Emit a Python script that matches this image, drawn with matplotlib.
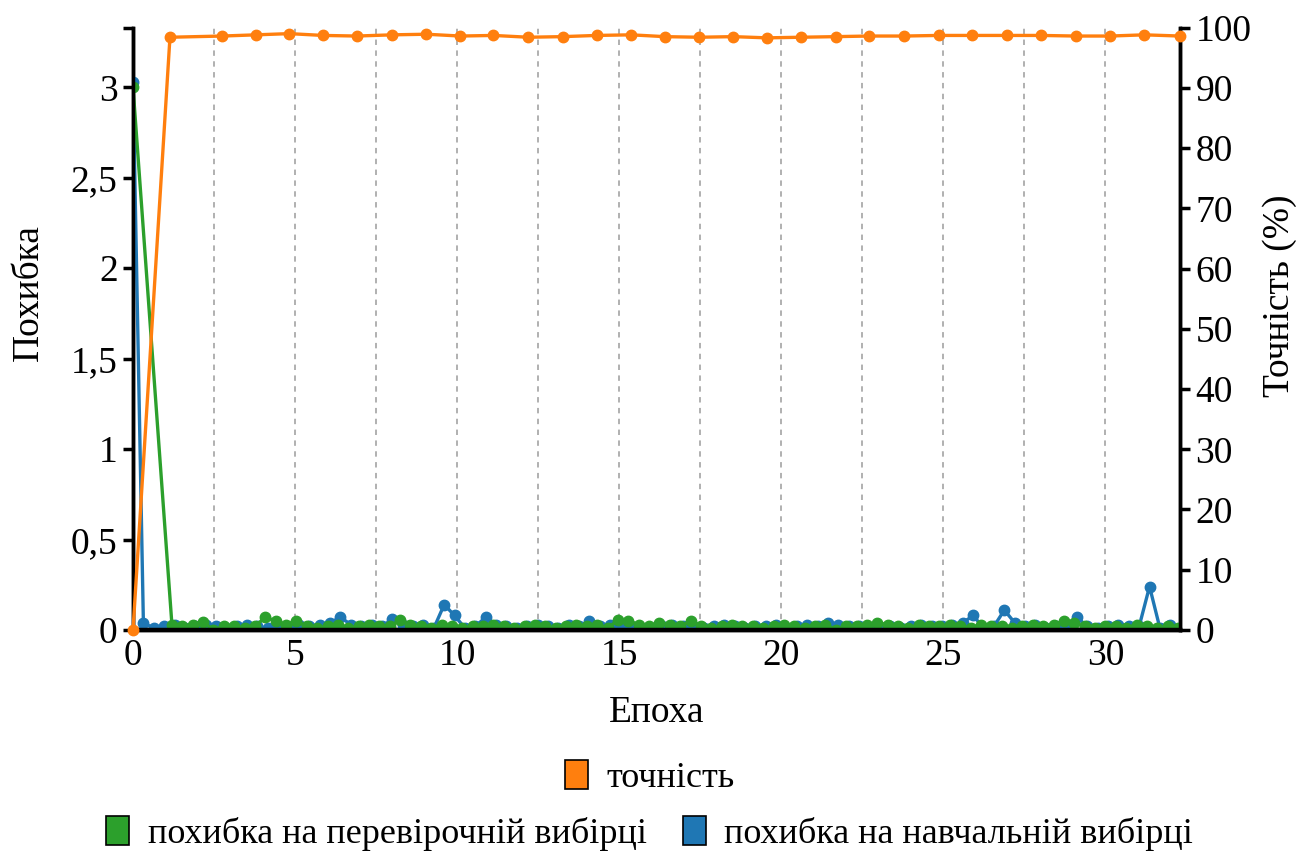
import numpy as np
import matplotlib
matplotlib.use("Agg")
import matplotlib.pyplot as plt
from matplotlib.ticker import FuncFormatter, MultipleLocator
from matplotlib.patches import Patch

plt.rcParams['font.family'] = ['Liberation Serif', 'DejaVu Serif']

# --- data ---
# accuracy (%) per epoch
acc_epoch = [0.0, 1.14, 2.75, 3.80, 4.82, 5.86, 6.90, 8.00, 9.05, 10.10,
             11.12, 12.20, 13.25, 14.30, 15.37, 16.40, 17.47, 18.52, 19.55, 20.60,
             21.68, 22.70, 23.80, 24.85, 25.87, 26.95, 28.00, 29.08, 30.15, 31.20,
             32.30]
acc_value = [0.0, 98.4, 98.6, 98.8, 99.0, 98.7, 98.6, 98.8, 98.9, 98.6,
             98.7, 98.4, 98.5, 98.7, 98.8, 98.5, 98.4, 98.5, 98.3, 98.4,
             98.5, 98.6, 98.6, 98.7, 98.7, 98.7, 98.7, 98.6, 98.6, 98.8,
             98.6]

# training loss, logged every 0.32 epoch
train_step = 0.32
train_loss = [3.03, 0.04, 0.01, 0.02, 0.03, 0.01, 0.02, 0.03, 0.02, 0.01,
              0.02, 0.03, 0.02, 0.01, 0.02, 0.01, 0.03, 0.02, 0.03, 0.04,
              0.07, 0.03, 0.02, 0.03, 0.02, 0.06, 0.03, 0.02, 0.03, 0.01,
              0.14, 0.08, 0.01, 0.02, 0.07, 0.03, 0.02, 0.01, 0.02, 0.03,
              0.02, 0.01, 0.03, 0.02, 0.05, 0.02, 0.03, 0.03, 0.02, 0.01,
              0.01, 0.02, 0.03, 0.02, 0.02, 0.01, 0.02, 0.03, 0.02, 0.01,
              0.02, 0.02, 0.03, 0.01, 0.02, 0.03, 0.02, 0.04, 0.03, 0.02,
              0.02, 0.01, 0.01, 0.02, 0.01, 0.02, 0.03, 0.02, 0.02, 0.03,
              0.04, 0.08, 0.01, 0.02, 0.11, 0.04, 0.02, 0.03, 0.01, 0.02,
              0.03, 0.07, 0.02, 0.01, 0.02, 0.03, 0.02, 0.02, 0.24, 0.01,
              0.03]

# validation loss: first value at epoch 0, then from epoch 1.2 every 0.32
val_start = 1.2
val_first = 3.0
val_loss = [0.03, 0.02, 0.03, 0.045, 0.00, 0.02, 0.02, 0.01, 0.02, 0.07,
            0.05, 0.03, 0.05, 0.02, 0.01, 0.02, 0.03, 0.01, 0.02, 0.03,
            0.02, 0.02, 0.055, 0.03, 0.02, 0.01, 0.03, 0.02, 0.01, 0.02,
            0.02, 0.03, 0.02, 0.01, 0.02, 0.03, 0.02, 0.01, 0.02, 0.03,
            0.02, 0.03, 0.01, 0.055, 0.05, 0.03, 0.02, 0.04, 0.03, 0.02,
            0.05, 0.02, 0.01, 0.02, 0.03, 0.02, 0.02, 0.01, 0.02, 0.03,
            0.02, 0.01, 0.02, 0.03, 0.00, 0.02, 0.02, 0.03, 0.04, 0.03,
            0.02, 0.01, 0.03, 0.02, 0.02, 0.03, 0.02, 0.01, 0.03, 0.02,
            0.02, 0.01, 0.02, 0.03, 0.02, 0.03, 0.05, 0.04, 0.02, 0.01,
            0.02, 0.02, 0.01, 0.03, 0.02, 0.01, 0.02, 0.01]

x_ticks = [0, 5, 10, 15, 20, 25, 30]
loss_ticks = [0, 0.5, 1, 1.5, 2, 2.5, 3]
acc_ticks = list(range(0, 101, 10))

C_ACC = '#ff7f0e'
C_VAL = '#2ca02c'
C_TRAIN = '#1f77b4'
FS = 27

train_epoch = np.arange(len(train_loss)) * train_step
val_epoch = np.concatenate([[0.0], val_start + np.arange(len(val_loss)) * train_step])
val_all = [val_first] + val_loss

fig = plt.figure(figsize=(12.99, 8.52), dpi=100)
ax = fig.add_axes([0.1024, 0.2606, 0.806, 0.707])
ax2 = ax.twinx()

ax.plot(train_epoch, train_loss, color=C_TRAIN, lw=2.4, marker='o', ms=7.5, zorder=3)
ax.plot(val_epoch, val_all, color=C_VAL, lw=2.4, marker='o', ms=7.5, zorder=3)
ax2.plot(acc_epoch, acc_value, color=C_ACC, lw=2.4, marker='o', ms=7.5, zorder=4, clip_on=False)

ax.set_xlim(0, 32.3)
ax.set_ylim(0, 3.33)
ax2.set_ylim(0, 100)

ax.set_xticks(x_ticks)
ax.xaxis.set_minor_locator(MultipleLocator(2.5))
ax.grid(axis='x', which='both', color='#aaaaaa', ls=(0, (3, 3)), lw=1.3)
ax.set_axisbelow(True)
ax.set_yticks(loss_ticks)
ax.set_yticks([3.33], minor=True)
ax.yaxis.set_major_formatter(FuncFormatter(lambda v, p: ('%g' % v).replace('.', ',')))
ax2.set_yticks(acc_ticks)

for a in (ax, ax2):
    a.spines['top'].set_visible(False)
    for s in ('left', 'right', 'bottom'):
        a.spines[s].set_linewidth(2.5)
        a.spines[s].set_color('black')
    a.spines['bottom'].set_linewidth(3.2)
ax.tick_params(axis='y', which='both', length=7, width=2.5, labelsize=FS, pad=4)
ax.tick_params(axis='x', which='both', length=0, labelsize=FS, pad=6)
ax2.tick_params(axis='y', length=7, width=2.5, labelsize=FS, pad=4)

ax.set_xlabel('Епоха', fontsize=FS, labelpad=16)
ax.set_ylabel('Похибка', fontsize=FS)
ax.yaxis.set_label_coords(-0.083, 0.56)
ax2.set_ylabel('Точність (%)', fontsize=FS, va='center')
ax2.yaxis.set_label_coords(1.095, 0.555)

h_acc = Patch(facecolor=C_ACC, edgecolor='black', lw=1.2)
h_val = Patch(facecolor=C_VAL, edgecolor='black', lw=1.2)
h_train = Patch(facecolor=C_TRAIN, edgecolor='black', lw=1.2)
leg_kw = dict(frameon=False, fontsize=26, handlelength=0.65, handleheight=0.85,
              handletextpad=0.5, columnspacing=1.0, borderaxespad=0)
fig.legend([h_acc], ['точність'], loc='center', bbox_to_anchor=(0.5, 0.087), **leg_kw)
fig.legend([h_val, h_train], ['похибка на перевірочній вибірці', 'похибка на навчальній вибірці'],
           loc='center', ncol=2, bbox_to_anchor=(0.5, 0.022), **leg_kw)

fig.savefig('out.png', dpi=100)
